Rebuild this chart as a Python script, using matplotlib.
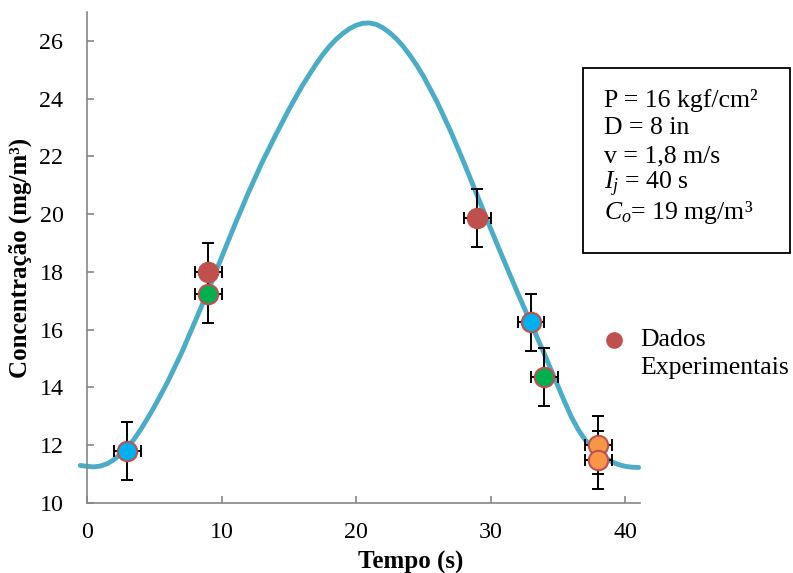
import matplotlib
matplotlib.use("Agg")
import matplotlib.pyplot as plt
from matplotlib.lines import Line2D
from matplotlib.patches import Rectangle

plt.rcParams['font.family'] = ['Liberation Serif', 'DejaVu Serif']
plt.rcParams['mathtext.fontset'] = 'custom'
plt.rcParams['mathtext.rm'] = 'Liberation Serif'
plt.rcParams['mathtext.it'] = 'Liberation Serif:italic'

# Curva ajustada
curva_x = [-0.5, 0, 0.5, 1, 1.5, 2, 2.5, 3, 3.5, 4, 4.5, 5, 5.5, 6, 7, 8, 9, 10, 11, 12, 13,
           14, 15, 16, 17, 17.5, 18, 18.5, 19, 19.5, 20, 20.5, 21, 21.5, 22, 22.5, 23, 23.5,
           24, 24.5, 25, 26, 27, 28, 29, 30, 31, 32, 33, 34, 35, 35.5, 36, 36.5, 37, 37.5,
           38, 38.5, 39, 39.5, 40, 40.5, 41]
curva_y = [11.30, 11.27, 11.25, 11.28, 11.36, 11.50, 11.69, 11.92, 12.21, 12.55, 12.93,
           13.33, 13.76, 14.20, 15.17, 16.25, 17.35, 18.50, 19.65, 20.75, 21.78, 22.72,
           23.62, 24.45, 25.18, 25.51, 25.80, 26.05, 26.25, 26.42, 26.54, 26.61, 26.62,
           26.57, 26.45, 26.28, 26.07, 25.81, 25.50, 25.16, 24.78, 23.90, 22.90, 21.80,
           20.65, 19.50, 18.38, 17.28, 16.22, 15.15, 14.05, 13.50, 12.98, 12.55, 12.20,
           11.94, 11.74, 11.57, 11.43, 11.33, 11.27, 11.24, 11.23]

# Dados experimentais
tempo = [3, 9, 9, 29, 33, 34, 38, 38]
conc = [11.8, 18.0, 17.22, 19.87, 16.25, 14.35, 12.0, 11.48]
erro_x = [1, 1, 1, 1, 1, 1, 1, 1]
erro_y = [1, 1, 1, 1, 1, 1, 1, 1]
cores = ['#00B0F0', '#C0504D', '#00B050', '#C0504D', '#00B0F0', '#00B050', '#F79646', '#F79646']

info = ['P = 16 kgf/cm²', 'D = 8 in', 'v = 1,8 m/s', '$I_j$ = 40 s', '$C_o$= 19 mg/m³']

fig = plt.figure(figsize=(7.93, 5.73), dpi=100)
ax = fig.add_axes([87/793, 1 - 503/573, 553/793, 491/573])

ax.plot(curva_x, curva_y, color='#4BACC6', lw=3.5, clip_on=False, zorder=2,
        solid_joinstyle='round', solid_capstyle='round')

ax.errorbar(tempo, conc, xerr=erro_x, yerr=erro_y, fmt='none', ecolor='black',
            elinewidth=1.4, capsize=4.5, capthick=1.4, zorder=3)
for x, y, c in zip(tempo, conc, cores):
    ax.plot(x, y, 'o', ms=14, mfc=c, mec='#C0504D', mew=1.5, zorder=4)

ax.set_xlim(0, 41.1)
ax.set_ylim(10, 27)
ax.set_xticks([0, 10, 20, 30, 40])
ax.set_yticks([10, 12, 14, 16, 18, 20, 22, 24, 26])
for s in ['top', 'right']:
    ax.spines[s].set_visible(False)
for s in ['left', 'bottom']:
    ax.spines[s].set_color('#868686')
    ax.spines[s].set_linewidth(1.2)
ax.tick_params(axis='both', direction='in', length=5, width=1.2, color='#868686',
               labelsize=17.3)
ax.tick_params(axis='y', pad=17)
ax.tick_params(axis='x', pad=14)

ax.set_xlabel('Tempo (s)', fontsize=18, fontweight='bold')
ax.xaxis.set_label_coords(0.586, -0.097)
ax.set_ylabel('Concentração (mg/m³)', fontsize=18, fontweight='bold')
ax.yaxis.set_label_coords(-0.10, 0.5)

# Caixa de parametros
fig.add_artist(Rectangle((583/793, 1 - 253/573), 207/793, 185/573, transform=fig.transFigure,
                         fill=False, edgecolor='black', lw=1.3))
for i, t in enumerate(info):
    fig.text(604/793, 1 - (100 + 28.2*i)/573, t, fontsize=18.5, ha='left', va='center')

# Legenda
fig.add_artist(Line2D([614/793], [1 - 340/573], marker='o', ms=11, color='#C0504D',
                      transform=fig.transFigure))
fig.text(640/793, 1 - 340/573, 'Dados', fontsize=18.5, ha='left', va='center')
fig.text(640/793, 1 - 368/573, 'Experimentais', fontsize=18.5, ha='left', va='center')

fig.savefig('out.png', dpi=100)
